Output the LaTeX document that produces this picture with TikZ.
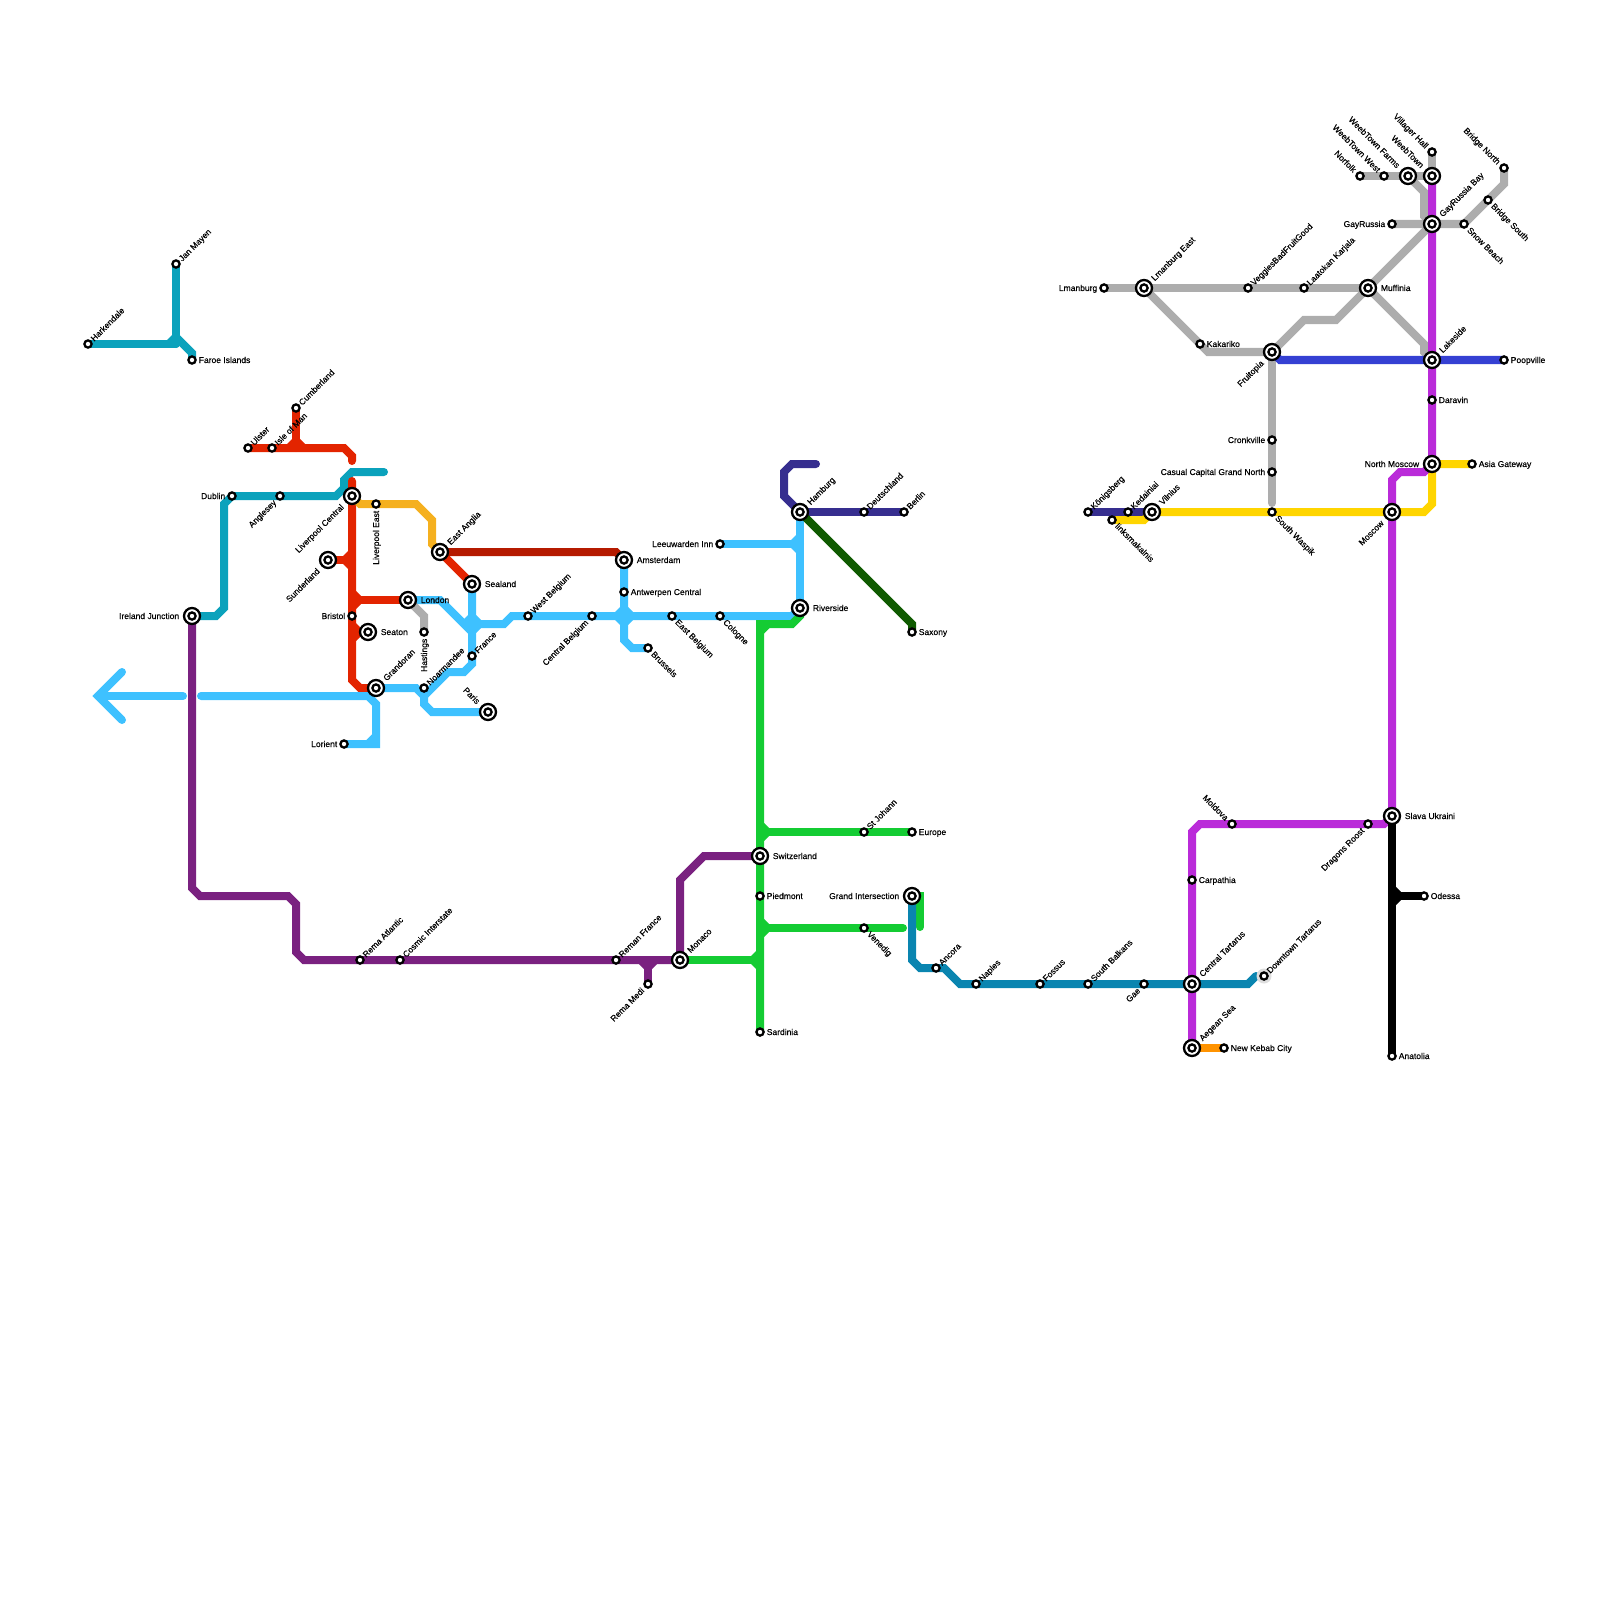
\documentclass[tikz,border=0pt]{standalone}
\usepackage{fontspec}
\setmainfont{Liberation Sans}[FakeBold=0.3]
\usetikzlibrary{backgrounds}

\definecolor{tealln}{HTML}{0BA2BC}
\definecolor{redln}{HTML}{E32400}
\definecolor{darkredln}{HTML}{B51A00}
\definecolor{amberln}{HTML}{F5B01F}
\definecolor{skyln}{HTML}{3EC1FF}
\definecolor{grayln}{HTML}{ADADAD}
\definecolor{magentaln}{HTML}{BA2BD9}
\definecolor{blueln}{HTML}{3540D3}
\definecolor{indigoln}{HTML}{362E8F}
\definecolor{forestln}{HTML}{0F5A00}
\definecolor{yellowln}{HTML}{FFD500}
\definecolor{greenln}{HTML}{14CC33}
\definecolor{plumln}{HTML}{7A2180}
\definecolor{oceanln}{HTML}{0A85B0}
\definecolor{orangeln}{HTML}{FF9300}

\tikzset{
  ln/.style={line width=0.08cm, line cap=round, line join=miter},
  stnSmall/.style={circle, draw=black, fill=white, line width=0.023cm, minimum size=0.072cm, inner sep=0pt},
  stnBig/.style={circle, draw=black, fill=white, line width=0.023cm, minimum size=0.16cm, inner sep=0pt},
  stnHalo/.style={circle, fill=black!13, minimum size=0.15cm, inner sep=0pt},
  lbl/.style={inner sep=0pt, font=\fontsize{2.42}{3}\selectfont},
  lblE/.style={shift={({1.35*\lo},3)}, anchor=base west},
  lblW/.style={shift={({-1.35*\lo},3)}, anchor=base east},
  lblNE/.style={shift={(\lo+1.3,-\lo+2.9)}, rotate=45, anchor=base west},
  lblSW/.style={shift={(-\lo+1.8,\lo+2.4)}, rotate=45, anchor=base east},
  lblSE/.style={shift={(\lo-2.3,\lo+1.9)}, rotate=-45, anchor=base west},
  lblNW/.style={shift={(-\lo-2.1,-\lo+2.1)}, rotate=-45, anchor=base east},
  lblS/.style={shift={(3,{1.35*\lo})}, rotate=90, anchor=base east},
}

\begin{document}
\begin{tikzpicture}[x=0.01cm, y=-0.01cm]
    \useasboundingbox (0,0) rectangle (1600,1600);
    \node[stnHalo] (downtownhalo) at (1264,976) {};
    % Small stations
    \def\lo{4.5}
    \foreach \n/\x/\y/\t/\p in {
        harkendale/88/344/Harkendale/lblNE, janmayen/176/264/Jan Mayen/lblNE,
        faroe/192/360/Faroe Islands/lblE, cumberland/296/408/Cumberland/lblNE,
        ulster/248/448/Ulster/lblNE, isleofman/272/448/Isle of Man/lblNE,
        dublin/232/496/Dublin/lblW, anglesey/280/496/Anglesey/lblSW,
        liverpooleast/376/504/Liverpool East/lblS, bristol/352/616/Bristol/lblW,
        hastings/424/632/Hastings/lblS, france/472/656/France/lblNE,
        noarmandee/424/688/Noarmandee/lblNE, lorient/344/744/Lorient/lblW,
        westbelgium/528/616/West Belgium/lblNE, centralbelgium/592/616/Central Belgium/lblSW,
        antwerpen/624/592/Antwerpen Central/lblE, eastbelgium/672/616/East Belgium/lblSE,
        cologne/720/616/Cologne/lblSE, brussels/648/648/Brussels/lblSE,
        leeuwarden/720/544/Leeuwarden Inn/lblW, deutschland/864/512/Deutschland/lblNE,
        berlin/904/512/Berlin/lblNE, saxony/912/632/Saxony/lblE,
        lmanburg/1104/288/Lmanburg/lblW, veggies/1248/288/VeggiesBadFruitGood/lblNE,
        laatokan/1304/288/Laatokan Karjala/lblNE, kakariko/1200/344/Kakariko/lblE,
        poopville/1504/360/Poopville/lblE, daravin/1432/400/Daravin/lblE,
        gayrussia/1392/224/GayRussia/lblW, snowbeach/1464/224/Snow Beach/lblSE,
        bridgesouth/1488/200/Bridge South/lblSE, bridgenorth/1504/168/Bridge North/lblNW,
        villager/1432/152/Villager Hall/lblNW, weebwest/1384/176/WeebTown West/lblNW,
        norfolk/1360/176/Norfolk/lblNW, konigsberg/1088/512/Königsberg/lblNE,
        kedainiai/1128/512/Kedainiai/lblNE, linksma/1112/520/linksmakalnis/lblSE,
        southwaspik/1272/512/South Waspik/lblSE, cronkville/1272/440/Cronkville/lblW,
        casual/1272/472/Casual Capital Grand North/lblW, asia/1472/464/Asia Gateway/lblE,
        remanfrance/616/960/Reman France/lblNE, remamedi/648/984/Rema Medi/lblSW,
        piedmont/760/896/Piedmont/lblE, sardinia/760/1032/Sardinia/lblE,
        stjohann/864/832/St Johann/lblNE, europe/912/832/Europe/lblE,
        venedig/864/928/Venedig/lblSE, ancora/936/968/Ancora/lblNE,
        naples/976/984/Naples/lblNE, fossus/1040/984/Fossus/lblNE,
        southbalkans/1088/984/South Balkans/lblNE, gae/1144/984/Gae/lblSW,
        downtown/1264/976/Downtown Tartarus/lblNE, newkebab/1224/1048/New Kebab City/lblE,
        moldova/1232/824/Moldova/lblNW, carpathia/1192/880/Carpathia/lblE,
        dragons/1368/824/Dragons Roost/lblSW, odessa/1424/896/Odessa/lblE,
        anatolia/1392/1056/Anatolia/lblE, remaatlantic/360/960/Rema Atlantic/lblNE,
        cosmic/400/960/Cosmic Interstate/lblNE}
    {
        \node[stnSmall] (\n) at (\x,\y) {};
        \node[lbl, \p] (\n-t) at (\x,\y) {\t};
    }
    % Interchanges
    \def\lo{9}
    \foreach \n/\x/\y/\t/\p in {
        liverpool/352/496/Liverpool Central/lblSW, eastanglia/440/552/East Anglia/lblNE,
        sunderland/328/560/Sunderland/lblSW, sealand/472/584/Sealand/lblE,
        london/408/600/London/lblE, ireland/192/616/Ireland Junction/lblW,
        seaton/368/632/Seaton/lblE, grandoran/376/688/Grandoran/lblNE,
        paris/488/712/Paris/lblNW, amsterdam/624/560/Amsterdam/lblE,
        hamburg/800/512/Hamburg/lblNE, riverside/800/608/Riverside/lblE,
        lmanburgeast/1144/288/Lmanburg East/lblNE, muffinia/1368/288/Muffinia/lblE,
        fruitopia/1272/352/Fruitopia/lblSW, lakeside/1432/360/Lakeside/lblNE,
        gayrussiabay/1432/224/GayRussia Bay/lblNE, weebtown/1432/176/WeebTown/lblNW,
        weebfarms/1408/176/WeebTown Farms/lblNW, vilnius/1152/512/Vilnius/lblNE,
        moscow/1392/512/Moscow/lblSW, northmoscow/1432/464/North Moscow/lblW,
        monaco/680/960/Monaco/lblNE, switzerland/760/856/Switzerland/lblE,
        grand/912/896/Grand Intersection/lblW, centraltartarus/1192/984/Central Tartarus/lblNE,
        aegean/1192/1048/Aegean Sea/lblNE, slava/1392/816/Slava Ukraini/lblE}
    {
        \node[stnBig] (\n) at (\x,\y) {};
        \node[stnSmall] (\n-i) at (\x,\y) {};
        \node[lbl, \p] (\n-t) at (\x,\y) {\t};
    }
    \begin{scope}[on background layer]
    % Teal
    \draw[ln, tealln] (janmayen.center) -- (176,344);
    \draw[ln, tealln] (harkendale.center) -- (176,344);
    \draw[ln, tealln] (176,337) -- (192,353) -- (faroe.center);
    \fill[tealln] (176,331) -- (163,344) -- (176,344) -- cycle;
    \draw[ln, tealln] (ireland.center) -- (216,616) -- (224,608) -- (224,504) -- (dublin.center) -- (336,496) -- (344,488) -- (344,480) -- (352,472) -- (384,472);
    % Red
    \draw[ln, redln] (ulster.center) -- (344,448) -- (352,456) -- (352,461);
    \draw[ln, redln] (cumberland.center) -- (296,448);
    \draw[ln, redln] (352,481) -- (352,680) -- (360,688) -- (grandoran.center);
    \draw[ln, redln] (sunderland.center) -- (352,560);
    \draw[ln, redln] (352,600) -- (london.center);
    \draw[ln, redln] (352,632) -- (seaton.center);
    \draw[ln, redln] (eastanglia.center) -- (sealand.center);
    \draw[ln, darkredln] (eastanglia.center) -- (616,552) -- (amsterdam.center);
    \draw[ln, amberln] (liverpool.center) -- (360,504) -- (416,504) -- (432,520) -- (432,544) -- (eastanglia.center);
    % Sky
    \draw[ln, skyln] (122,672) -- (98,696) -- (122,720);
    \draw[ln, skyln] (98,696) -- (183,696);
    \draw[ln, skyln] (201,696) -- (368,696) -- (376,704) -- (376,744) -- (lorient.center);
    \draw[ln, skyln] (376,736) -- (368,744);
    \draw[ln, skyln] (grandoran.center) -- (416,688) -- (424,696) -- (424,704) -- (432,712) -- (paris.center);
    \draw[ln, skyln] (424,696) -- (448,672) -- (464,672) -- (472,664) -- (sealand.center);
    \draw[ln, skyln] (london.center) -- (440,600) -- (472,632);
    \draw[ln, skyln] (472,624) -- (504,624) -- (512,616) -- (792,616) -- (riverside.center);
    \draw[ln, skyln] (amsterdam.center) -- (624,640) -- (632,648) -- (brussels.center);
    \draw[ln, skyln] (leeuwarden.center) -- (800,544);
    \draw[ln, skyln] (hamburg.center) -- (riverside.center);
    % Gray
    \draw[ln, grayln] (london.center) -- (424,616) -- (hastings.center);
    \draw[ln, grayln] (lmanburg.center) -- (muffinia.center);
    \draw[ln, grayln] (lmanburgeast.center) -- (1208,352) -- (fruitopia.center);
    \draw[ln, grayln] (fruitopia.center) -- (1304,320) -- (1336,320) -- (muffinia.center);
    \draw[ln, grayln] (fruitopia.center) -- (1272,503);
    \draw[ln, grayln] (muffinia.center) -- (gayrussiabay.center);
    \draw[ln, grayln] (muffinia.center) -- (1424,344) -- (1424,352) -- (lakeside.center);
    \draw[ln, grayln] (norfolk.center) -- (weebtown.center);
    \draw[ln, grayln] (weebfarms.center) -- (1424,192) -- (1424,216) -- (gayrussiabay.center);
    \draw[ln, grayln] (gayrussia.center) -- (snowbeach.center) -- (1504,184) -- (bridgenorth.center);
    \draw[ln, grayln] (villager.center) -- (weebtown.center);
    % Hamburg lines
    \draw[ln, indigoln] (hamburg.center) -- (berlin.center);
    \draw[ln, indigoln] (hamburg.center) -- (784,496) -- (784,472) -- (792,464) -- (816,464);
    \draw[ln, indigoln] (konigsberg.center) -- (vilnius.center);
    \draw[ln, forestln] (hamburg.center) -- (912,624) -- (saxony.center);
    % East
    \draw[ln, blueln] (fruitopia.center) -- (1280,360) -- (poopville.center);
    \draw[ln, yellowln] (vilnius.center) -- (1424,512) -- (1432,504) -- (northmoscow.center) -- (asia.center);
    \draw[ln, yellowln] (linksma.center) -- (1144,520) -- (vilnius.center);
    \draw[ln, magentaln] (weebtown.center) -- (northmoscow.center) -- (1424,472) -- (1400,472) -- (1392,480) -- (slava.center) -- (1384,824) -- (1200,824) -- (1192,832) -- (aegean.center);
    \draw[ln, orangeln] (aegean.center) -- (newkebab.center);
    \draw[ln, black] (slava.center) -- (anatolia.center);
    \draw[ln, black] (1392,896) -- (odessa.center);
    % Green
    \draw[ln, greenln] (riverside.center) -- (800,616) -- (792,624) -- (760,624) -- (sardinia.center);
    \draw[ln, greenln] (760,632) -- (768,624);
    \draw[ln, greenln] (760,832) -- (europe.center);
    \draw[ln, greenln] (760,928) -- (903,928);
    \draw[ln, greenln] (monaco.center) -- (760,960);
    \draw[ln, greenln] (grand.center) -- (920,896) -- (920,927);
    % Plum
    \draw[ln, plumln] (ireland.center) -- (192,888) -- (200,896) -- (288,896) -- (296,904) -- (296,952) -- (304,960) -- (monaco.center);
    \draw[ln, plumln] (648,960) -- (remamedi.center);
    \draw[ln, plumln] (monaco.center) -- (680,880) -- (704,856) -- (switzerland.center);
    % Ocean
    \draw[ln, oceanln] (grand.center) -- (912,960) -- (920,968) -- (944,968) -- (960,984) -- (1248,984) -- (1256,976);
    % Junction gussets
    \foreach \x/\y/\a/\c in {
        296/448/90/redln, 352/560/180/redln, 352/600/0/redln,
        352/632/0/redln, 472/624/0/skyln, 472/624/180/skyln, 624/616/0/skyln,
        624/616/180/skyln, 800/544/180/skyln, 760/832/0/greenln, 760/928/0/greenln,
        760/960/180/greenln, 648/960/270/plumln, 1392/896/0/black}
    {
        \fill[\c, shift={(\x,\y)}, rotate=\a] (0,-13) -- (13,0) -- (0,13) -- cycle;
    }
    \end{scope}
\end{tikzpicture}
\end{document}
